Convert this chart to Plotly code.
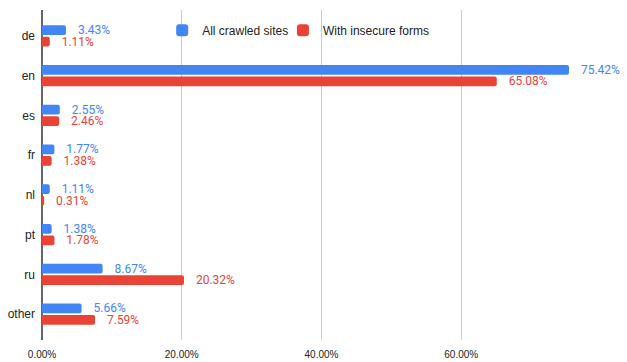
import plotly.graph_objects as go

categories = ["de", "en", "es", "fr", "nl", "pt", "ru", "other"]
all_sites = [3.43, 75.42, 2.55, 1.77, 1.11, 1.38, 8.67, 5.66]
insecure = [1.11, 65.08, 2.46, 1.38, 0.31, 1.78, 20.32, 7.59]
tick_vals = [0, 20, 40, 60, 80]
tick_text = ["0.00%", "20.00%", "40.00%", "60.00%", ""]

BLUE = "#4285F4"
RED = "#EA4335"
PAD = "\u00a0\u00a0\u00a0"

fig = go.Figure()
fig.add_trace(go.Bar(
    y=categories, x=all_sites, orientation="h", name="All crawled sites",
    marker=dict(color=BLUE, line=dict(width=0)),
    text=[PAD + f"{v:.2f}%" for v in all_sites], textposition="outside",
    constraintext="none", legend="legend",
    textfont=dict(family="Roboto", size=12, color=BLUE), cliponaxis=False,
))
fig.add_trace(go.Bar(
    y=categories, x=insecure, orientation="h", name="With insecure forms",
    marker=dict(color=RED, line=dict(width=0)),
    text=[PAD + f"{v:.2f}%" for v in insecure], textposition="outside",
    constraintext="none", legend="legend2",
    textfont=dict(family="Roboto", size=12, color=RED), cliponaxis=False,
))

leg_common = dict(orientation="h", yanchor="middle", xanchor="left",
                  font=dict(size=12, color="#222"), bgcolor="rgba(0,0,0,0)")
fig.update_layout(
    width=627, height=362,
    margin=dict(l=41.5, r=25.5, t=10, b=22, autoexpand=False),
    paper_bgcolor="white", plot_bgcolor="white",
    barmode="group", bargap=0.42, bargroupgap=0.15, barcornerradius=2,
    font=dict(family="Liberation Sans, Arial", size=12, color="#222"),
    showlegend=True,
    legend=dict(x=0.215, y=0.939, **leg_common),
    legend2=dict(x=0.431, y=0.939, **leg_common),
)
fig.update_xaxes(
    range=[0, 80], tickvals=tick_vals, ticktext=tick_text,
    showgrid=True, gridcolor="#cccccc", gridwidth=1,
    zeroline=True, zerolinecolor="#666666", zerolinewidth=1.5,
    showline=False, ticks="", tickfont=dict(size=10, color="#222"),
    ticklabelstandoff=7, automargin=False, fixedrange=True,
)
fig.update_yaxes(
    type="category", categoryorder="array", categoryarray=categories,
    range=[7.65, -0.65], showgrid=False, zeroline=False, showline=False,
    ticks="", tickfont=dict(size=12, color="#222"), ticklabelstandoff=6,
    automargin=False, fixedrange=True,
)

fig.write_html("out.html")
